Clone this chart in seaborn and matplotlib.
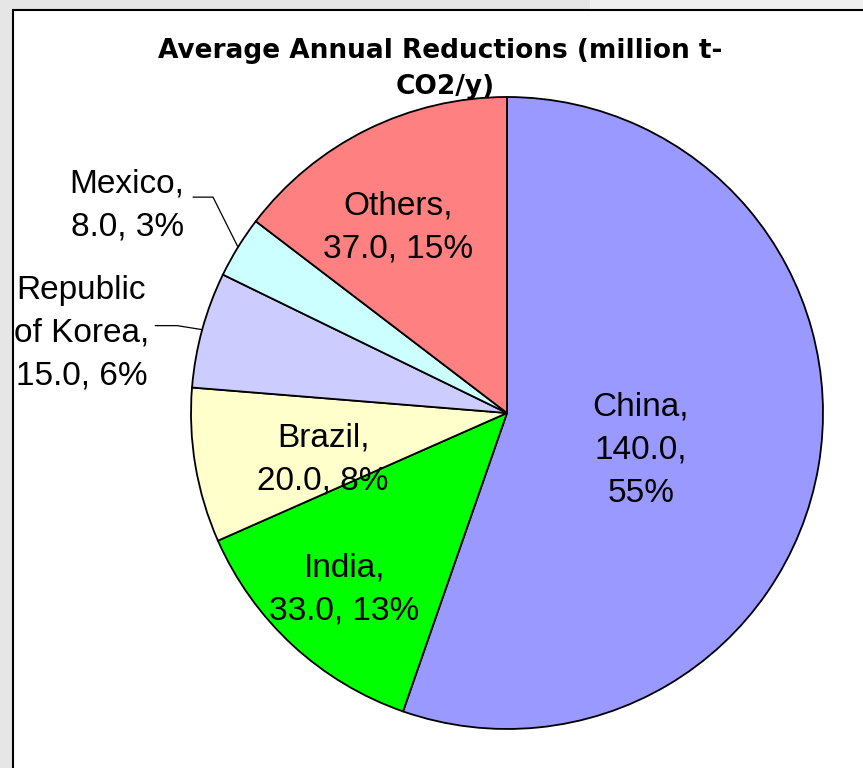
"""
Average annual CO2 reductions by host country - pie chart
"""
import numpy as np
import seaborn as sns
import matplotlib.pyplot as plt
from matplotlib.patches import Rectangle

countries = ["China", "India", "Brazil", "Republic of Korea", "Mexico", "Others"]
reductions = [140.0, 33.0, 20.0, 15.0, 8.0, 37.0]
labels = ["China,\n140.0,\n55%", "India,\n33.0, 13%", "Brazil,\n20.0, 8%",
          "Republic\nof Korea,\n15.0, 6%", "Mexico,\n8.0, 3%", "Others,\n37.0, 15%"]
colors = ["#9999ff", "#00ff00", "#ffffcc", "#ccccff", "#ccffff", "#ff8080"]

W, H = 863, 768
CX, CY, R = 507, H - 413, 316

sns.set_style("white")
plt.rcParams["font.family"] = ["Liberation Sans Narrow", "Liberation Sans", "DejaVu Sans"]
plt.rcParams["text.color"] = "black"

fig = plt.figure(figsize=(W / 100, H / 100), dpi=100, facecolor="#e6e6e6")
ax = fig.add_axes([0, 0, 1, 1])

# chart frame (white area with black border, running off right/bottom)
ax.add_patch(Rectangle((590, H - 10), 400, 20, facecolor="#f0f0f0", edgecolor="none", zorder=0))
ax.add_patch(Rectangle((13, -20), 1000, H - 10 + 20, facecolor="white",
                       edgecolor="black", linewidth=1.5, zorder=0))

wedges, _ = ax.pie(reductions, colors=colors, startangle=90, counterclock=False,
                   center=(CX, CY), radius=R,
                   wedgeprops=dict(edgecolor="black", linewidth=1.3))

ax.set_xlim(0, W)
ax.set_ylim(0, H)
ax.set_aspect("equal")
ax.axis("off")

# label placement: distance (in radii) and angle nudge (deg) from wedge middle
dist = [0.44, 0.76, 0.60, 1.37, 1.37, 0.68]
nudge = [-6, 0, 4.5, 4.7, 3, 4]

def polar(ang, r):
    a = np.deg2rad(ang)
    return CX + r * np.cos(a), CY + r * np.sin(a)

for w, lab, d, n in zip(wedges, labels, dist, nudge):
    mid = (w.theta1 + w.theta2) / 2
    x, y = polar(mid + n, d * R)
    ax.text(x, y, lab, ha="center", va="center", fontsize=24, linespacing=1.5,
            color="black")

# leader lines for the small outside slices
leaders = {3: ((-25, 4), (-22, 0)), 4: ((-25, 50), (-20, 0))}
for i, (d1, d2) in leaders.items():
    w = wedges[i]
    mid = (w.theta1 + w.theta2) / 2
    x0, y0 = polar(mid, R)
    x1, y1 = x0 + d1[0], y0 + d1[1]
    x2, y2 = x1 + d2[0], y1 + d2[1]
    ax.plot([x0, x1, x2], [y0, y1, y2], color="black", linewidth=0.9)

ax.text(440, H - 51, "Average Annual Reductions (million t-", ha="center", va="center",
        fontsize=19, family="DejaVu Sans", fontweight="bold", color="black")
ax.text(445, H - 87, "CO2/y)", ha="center", va="center", fontsize=19,
        family="DejaVu Sans", fontweight="bold", color="black")

fig.savefig("out.png", dpi=100, facecolor=fig.get_facecolor())
